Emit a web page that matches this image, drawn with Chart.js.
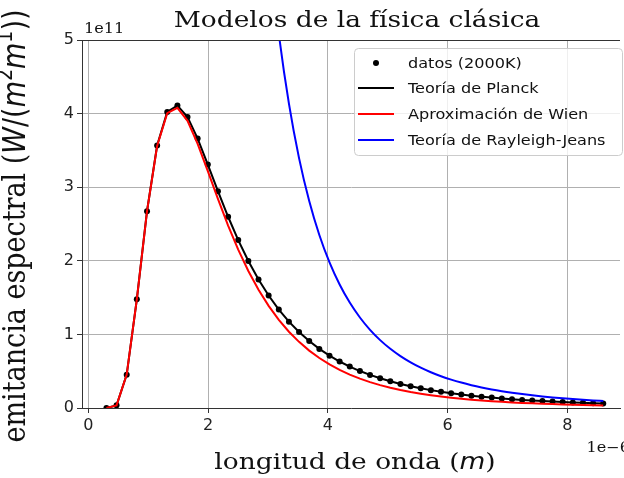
<!DOCTYPE html>
<html>
<head>
<meta charset="utf-8">
<script src="https://cdn.jsdelivr.net/npm/chart.js@4.4.0/dist/chart.umd.min.js"></script>
<style>
  html, body { margin: 0; padding: 0; background: #fff; }
  #wrap { width: 624px; height: 478px; }
</style>
</head>
<body>
<div id="wrap"><canvas id="chart" width="624" height="478"></canvas></div>
<script>
// wavelength in 1e-6 m, emittance in 1e11 W/m^3
const lambdaUm = [0.300, 0.469, 0.639, 0.808, 0.978, 1.147, 1.316, 1.486, 1.655, 1.824,
  1.994, 2.163, 2.333, 2.502, 2.671, 2.841, 3.010, 3.180, 3.349, 3.518,
  3.688, 3.857, 4.027, 4.196, 4.365, 4.535, 4.704, 4.873, 5.043, 5.212,
  5.382, 5.551, 5.720, 5.890, 6.059, 6.229, 6.398, 6.567, 6.737, 6.906,
  7.076, 7.245, 7.414, 7.584, 7.753, 7.922, 8.092, 8.261, 8.431, 8.600];

const planckVals = [0.0001, 0.0359, 0.4532, 1.4769, 2.6733, 3.5660, 4.0227, 4.1108, 3.9532, 3.6605,
  3.3078, 2.9463, 2.5982, 2.2810, 1.9971, 1.7457, 1.5277, 1.3372, 1.1735, 1.0320,
  0.9091, 0.8033, 0.7112, 0.6317, 0.5626, 0.5020, 0.4494, 0.4033, 0.3626, 0.3269,
  0.2953, 0.2674, 0.2428, 0.2207, 0.2011, 0.1836, 0.1679, 0.1539, 0.1412, 0.1299,
  0.1196, 0.1103, 0.1019, 0.0943, 0.0874, 0.0810, 0.0753, 0.0700, 0.0652, 0.0608];

const wienVals = [0.0001, 0.0359, 0.4532, 1.4767, 2.6716, 3.5593, 4.0057, 4.0783, 3.9021, 3.5896,
  3.2181, 2.8404, 2.4792, 2.1523, 1.8620, 1.6070, 1.3877, 1.1979, 1.0366, 0.8985,
  0.7798, 0.6789, 0.5920, 0.5180, 0.4544, 0.3993, 0.3520, 0.3111, 0.2755, 0.2447,
  0.2177, 0.1943, 0.1737, 0.1556, 0.1398, 0.1257, 0.1134, 0.1024, 0.0927, 0.0841,
  0.0763, 0.0694, 0.0633, 0.0578, 0.0528, 0.0484, 0.0443, 0.0407, 0.0374, 0.0345];

const rayleighVals = [64210, 10750, 3119.5, 1220.2, 568.5, 300.5, 173.4, 106.66, 69.33, 46.99,
  32.90, 23.76, 17.556, 13.272, 10.219, 7.984, 6.336, 5.086, 4.1345, 3.3955,
  2.8114, 2.3501, 1.9777, 1.6778, 1.4327, 1.2296, 1.0622, 0.9224, 0.8041, 0.7048,
  0.6199, 0.5478, 0.4859, 0.4321, 0.3859, 0.3455, 0.3104, 0.2797, 0.2525, 0.2287,
  0.2075, 0.1888, 0.1721, 0.1572, 0.1439, 0.1321, 0.1213, 0.1117, 0.1029, 0.0951];

const xTicks = [0, 2, 4, 6, 8];
const yTicks = [0, 1, 2, 3, 4, 5];
const seriesNames = ["datos (2000K)", "Teoría de Planck", "Aproximación de Wien", "Teoría de Rayleigh-Jeans"];
const seriesColors = ["#000000", "#000000", "#ff0000", "#0000ff"];

const SERIF = "'DejaVu Serif'";
const SANS = "'DejaVu Sans'";
const HS = 1.15; // picture is a bit wider than tall

function pts(ys) {
  return lambdaUm.map((x, i) => ({ x: x, y: ys[i] }));
}

// draw a row of text pieces, optionally rotated
function drawRuns(ctx, runs, x, y, align, rot) {
  ctx.save();
  ctx.translate(x, y);
  ctx.scale(HS, 1);
  if (rot) ctx.rotate(rot);
  ctx.textBaseline = "alphabetic";
  ctx.textAlign = "left";
  let total = 0;
  runs.forEach(r => { ctx.font = r.f; r.w = ctx.measureText(r.t).width; total += r.w; });
  let cx = align === "center" ? -total / 2 : align === "right" ? -total : 0;
  runs.forEach(r => {
    ctx.font = r.f;
    ctx.fillStyle = "#111";
    ctx.fillText(r.t, cx, r.dy || 0);
    cx += r.w;
  });
  ctx.restore();
}

const decor = {
  id: "decor",
  afterDraw(chart) {
    const ctx = chart.ctx;
    const a = chart.chartArea;

    // top spine
    ctx.save();
    ctx.strokeStyle = "#333";
    ctx.lineWidth = 1;
    ctx.beginPath();
    ctx.moveTo(a.left, a.top + 0.5);
    ctx.lineTo(a.right, a.top + 0.5);
    ctx.stroke();
    ctx.restore();

    // title
    drawRuns(ctx, [{ t: "Modelos de la física clásica", f: "23px " + SERIF }], 357, 27, "center");

    // x label
    drawRuns(ctx, [
      { t: "longitud de onda (", f: "23px " + SERIF },
      { t: "m", f: "italic 23px " + SANS },
      { t: ")", f: "23px " + SERIF }
    ], 355, 469, "center");

    // y label
    drawRuns(ctx, [
      { t: "emitancia espectral (", f: "27px " + SERIF },
      { t: "W", f: "italic 27px " + SANS },
      { t: "/(", f: "27px " + SANS },
      { t: "m", f: "italic 27px " + SANS },
      { t: "2", f: "19px " + SANS, dy: -11 },
      { t: "m", f: "italic 27px " + SANS },
      { t: "1", f: "19px " + SANS, dy: -11 },
      { t: "))", f: "27px " + SANS }
    ], 25, 226, "center", -Math.PI / 2);

    // offset texts
    drawRuns(ctx, [{ t: "1e11", f: "14px " + SERIF }], 84, 33, "left");
    drawRuns(ctx, [{ t: "1e\u22126", f: "14px " + SERIF }], 630, 452, "right");

    // legend
    const bx = 354, by = 48, bw = 268, bh = 107;
    ctx.save();
    ctx.fillStyle = "rgba(255,255,255,0.8)";
    ctx.strokeStyle = "#cccccc";
    ctx.lineWidth = 1;
    ctx.beginPath();
    ctx.roundRect(bx + 0.5, by + 0.5, bw, bh, 4);
    ctx.fill();
    ctx.stroke();
    ctx.restore();
    const rowY = [63, 88, 114, 140];
    chart.data.datasets.forEach((ds, i) => {
      const yy = rowY[i];
      ctx.save();
      if (i === 0) {
        ctx.fillStyle = seriesColors[0];
        ctx.beginPath();
        ctx.arc(376, yy, 3, 0, Math.PI * 2);
        ctx.fill();
      } else {
        ctx.strokeStyle = seriesColors[i];
        ctx.lineWidth = 2;
        ctx.beginPath();
        ctx.moveTo(358, yy);
        ctx.lineTo(394, yy);
        ctx.stroke();
      }
      ctx.restore();
      drawRuns(ctx, [{ t: ds.label, f: "14px " + SANS }], 408, yy + 5, "left");
    });
  }
};

const axisFont = { family: "DejaVu Sans", size: 16 };

new Chart(document.getElementById("chart"), {
  type: "scatter",
  data: {
    datasets: [
      { label: seriesNames[0], data: pts(planckVals), showLine: false, pointRadius: 3,
        pointBackgroundColor: seriesColors[0], pointBorderWidth: 0, order: 4 },
      { label: seriesNames[1], data: pts(planckVals), showLine: true, borderColor: seriesColors[1],
        borderWidth: 2, pointRadius: 0, order: 3 },
      { label: seriesNames[2], data: pts(wienVals), showLine: true, borderColor: seriesColors[2],
        borderWidth: 2, pointRadius: 0, order: 2 },
      { label: seriesNames[3], data: pts(rayleighVals), showLine: true, borderColor: seriesColors[3],
        borderWidth: 2, pointRadius: 0, cubicInterpolationMode: "monotone", order: 1 }
    ]
  },
  options: {
    responsive: false,
    animation: false,
    devicePixelRatio: 1,
    layout: { padding: { top: 40, left: 0, right: 0, bottom: 0 } },
    plugins: { legend: { display: false }, tooltip: { enabled: false } },
    scales: {
      x: {
        type: "linear",
        min: -0.108,
        max: 8.88,
        afterBuildTicks: s => { s.ticks = xTicks.map(v => ({ value: v })); },
        afterFit: s => { s.height = 70; },
        grid: { color: "#b0b0b0", lineWidth: 1, tickLength: 5, tickColor: "#333" },
        border: { color: "#333", width: 1 },
        ticks: { font: axisFont, color: "#222", padding: 3, maxRotation: 0 }
      },
      y: {
        type: "linear",
        min: 0,
        max: 5,
        afterBuildTicks: s => { s.ticks = yTicks.map(v => ({ value: v })); },
        afterFit: s => { s.width = 82; },
        grid: { color: "#b0b0b0", lineWidth: 1, tickLength: 5, tickColor: "#333" },
        border: { color: "#333", width: 1 },
        ticks: { font: axisFont, color: "#222", padding: 3 }
      }
    }
  },
  plugins: [decor]
});
</script>
</body>
</html>
